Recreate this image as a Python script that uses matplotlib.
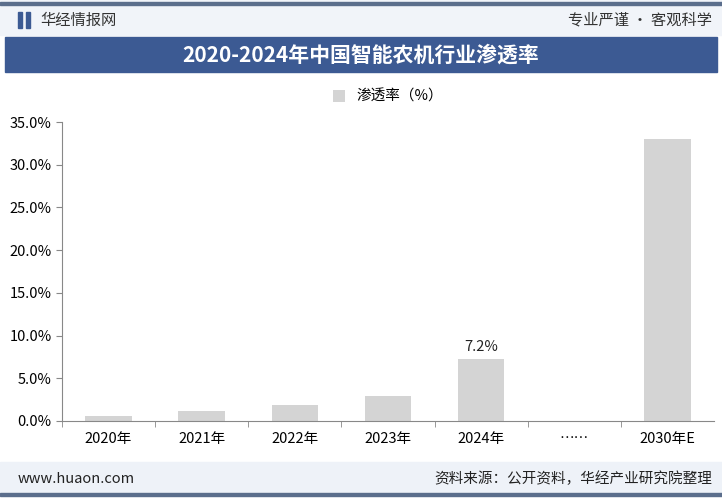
import matplotlib.pyplot as plt
from matplotlib.patches import Rectangle

plt.rcParams['font.family'] = ['Noto Sans CJK SC', 'DejaVu Sans']

categories = ['2020年', '2021年', '2022年', '2023年', '2024年', '……', '2030年E']
values = [0.6, 1.2, 1.9, 2.9, 7.2, None, 33.0]
yticks = [0, 5, 10, 15, 20, 25, 30, 35]

W, H = 722, 500
fig = plt.figure(figsize=(W / 100, H / 100), dpi=100)
fig.patch.set_facecolor('white')

def box(x0, y0, x1, y1, color):
    # pixel coords, y from top
    fig.patches.append(Rectangle((x0 / W, 1 - y1 / H), (x1 - x0) / W, (y1 - y0) / H,
                                 transform=fig.transFigure, color=color, zorder=0))

box(0, 0, W, 35, '#f1f4f9')
box(0, 2, W, 5, '#5b6e8c')
box(5, 37, 717, 72, '#3c5a93')
box(0, 462, W, 492, '#eef2f8')
box(0, 493, W, 496, '#5b6e8c')
box(18, 12, 22, 28, '#3c5a93')
box(26, 12, 30, 28, '#3c5a93')

fig.text(40 / W, 1 - 20 / H, '华经情报网', fontsize=11, color='#333333', va='center')
fig.text(712 / W, 1 - 20 / H, '专业严谨 • 客观科学', fontsize=11, color='#333333', va='center', ha='right')
fig.text(0.5, 1 - 55 / H, '2020-2024年中国智能农机行业渗透率', fontsize=15, color='white',
         va='center', ha='center', fontweight='bold')
fig.text(18 / W, 1 - 479 / H, 'www.huaon.com', fontsize=10.5, color='#222222', va='center')
fig.text(712 / W, 1 - 479 / H, '资料来源：公开资料，华经产业研究院整理', fontsize=10.5,
         color='#222222', va='center', ha='right')

ax = fig.add_axes([62 / W, 1 - 421 / H, (714 - 62) / W, (421 - 122) / H])
ax.set_facecolor('none')
xs = list(range(len(categories)))
bx = [x for x, v in zip(xs, values) if v is not None]
bv = [v for v in values if v is not None]
ax.bar(bx, bv, width=0.5, color='#d4d4d4', label='渗透率（%）')
ax.text(4, 7.2 + 0.6, '7.2%', ha='center', va='bottom', fontsize=10.5, color='#222222')
ax.set_xlim(-0.5, len(categories) - 0.5)
ax.set_ylim(0, 35)
ax.set_yticks(yticks)
ax.set_yticklabels([f'{t:.1f}%' for t in yticks], fontsize=10.5)
ax.set_xticks(xs)
ax.set_xticklabels(categories, fontsize=10.5)
ax.set_xticks([x + 0.5 for x in xs[:-1]] + [-0.5], minor=True)
ax.tick_params(axis='x', which='major', length=0, pad=8)
ax.tick_params(axis='x', which='minor', length=4, color='#888888')
ax.tick_params(axis='y', length=4, color='#888888')
for s in ['top', 'right']:
    ax.spines[s].set_visible(False)
for s in ['left', 'bottom']:
    ax.spines[s].set_color('#888888')
ax.legend(loc='center', bbox_to_anchor=(0.5, 1 + 25 / 299), frameon=False,
          fontsize=10.5, handlelength=0.8, handleheight=0.8)

fig.savefig('out.png', dpi=100)
